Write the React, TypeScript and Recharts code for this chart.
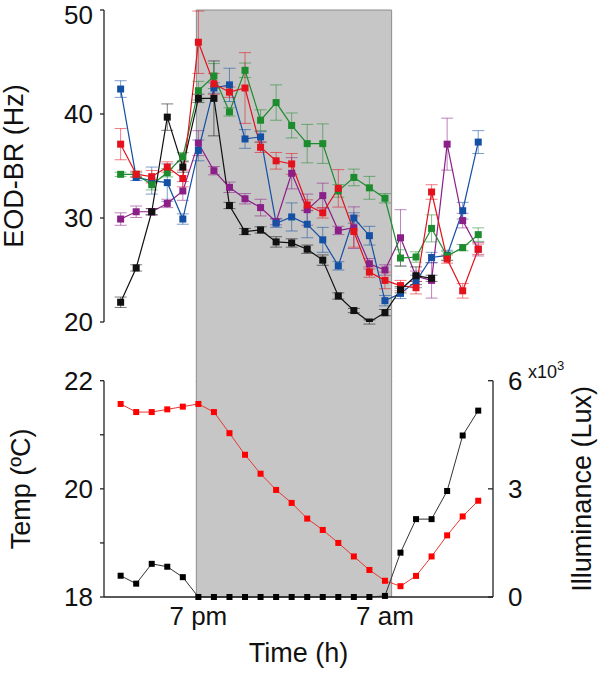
import { ComposedChart, Line, XAxis, YAxis, ErrorBar, ReferenceArea, ReferenceLine } from 'recharts';

// hours from 2 pm (14) to 1 pm next day (37)
const hours = [14, 15, 16, 17, 18, 19, 20, 21, 22, 23, 24, 25, 26, 27, 28, 29, 30, 31, 32, 33, 34, 35, 36, 37];
const timeTicks = [19, 31];
const timeLabels = ['7 pm', '7 am'];
const darkStart = 18.87;
const darkEnd = 31.43;

// EOD-BR (Hz), five fish
const blue = [42.4, 33.9, 33.6, 33.4, 29.9, 36.5, 42.5, 42.8, 37.6, 37.8, 29.5, 30.1, 29.4, 27.9, 25.4, 30.0, 28.3, 22.05, 22.75, 23.9, 26.2, 26.4, 30.7, 37.3];
const blueErr = [0.8, 0.3, 1.3, 1.8, 0.5, 1.0, 0.5, 1.6, 0.9, 0.5, 0.4, 1.35, 1.3, 1.2, 0.4, 0.5, 0.9, 0.5, 0.5, 0.6, 0.5, 0.5, 0.8, 1.1];
const red = [37.1, 34.2, 33.97, 34.9, 33.8, 46.9, 42.9, 42.1, 42.5, 36.8, 35.5, 35.2, 31.25, 30.5, 32.85, 28.7, 24.8, 24.0, 23.5, 23.3, 32.5, 26.05, 23.0, 27.0];
const redErr = [1.5, 0.3, 0.6, 0.5, 0.8, 3.0, 1.0, 0.5, 3.4, 0.5, 0.8, 1.0, 0.5, 0.5, 1.8, 1.5, 0.5, 0.8, 0.5, 0.6, 0.7, 0.4, 0.7, 0.5];
const green = [34.2, 34.2, 33.2, 34.35, 35.9, 42.24, 43.65, 40.2, 44.2, 39.4, 41.1, 38.9, 37.15, 37.15, 32.6, 33.9, 32.9, 31.9, 26.15, 26.25, 29.0, 26.35, 27.15, 28.4];
const greenErr = [0.2, 0.2, 0.5, 0.4, 0.4, 0.9, 1.2, 0.4, 0.7, 1.0, 1.7, 1.2, 1.85, 1.9, 0.6, 0.8, 1.1, 0.45, 0.8, 0.5, 1.3, 0.4, 0.3, 0.65];
const purple = [29.9, 30.6, 30.6, 31.4, 32.6, 37.2, 34.55, 32.95, 31.85, 31.0, 29.65, 34.3, 30.8, 32.15, 28.8, 29.07, 25.6, 25.0, 28.1, 24.4, 24.0, 37.1, 29.75, 27.0];
const purpleErr = [0.6, 0.55, 0.3, 0.4, 0.9, 1.2, 0.4, 0.5, 0.5, 0.8, 0.3, 1.5, 1.5, 1.2, 0.4, 2.0, 0.5, 0.5, 2.7, 0.5, 1.7, 2.5, 0.7, 0.65];
const black = [21.9, 25.2, 30.6, 39.7, 34.9, 41.5, 41.5, 31.2, 28.7, 28.85, 27.7, 27.6, 27.0, 25.95, 22.5, 21.1, 20.0, 20.9, 23.1, 24.45, 24.2, null, null, null];
const blackErr = [0.5, 0.3, 0.3, 1.27, 0.5, 0.4, 3.6, 0.3, 0.3, 0.3, 0.5, 0.4, 0.4, 0.5, 0.3, 0.2, 0.2, 0.3, 0.3, 0.85, 0.3, null, null, null];

// environment
const temp = [21.57, 21.42, 21.42, 21.47, 21.52, 21.57, 21.42, 21.03, 20.63, 20.28, 19.98, 19.74, 19.45, 19.24, 19.0, 18.75, 18.5, 18.3, 18.2, 18.39, 18.75, 19.14, 19.49, 19.78];
const lux = [0.59, 0.37, 0.92, 0.84, 0.55, 0, 0, 0, 0, 0, 0, 0, 0, 0, 0, 0, 0, 0.03, 1.23, 2.16, 2.16, 2.94, 4.48, 5.17]; // x10^3

const FONT = '"Liberation Sans", Arial, sans-serif';
const GRAY = '#c6c6c6';
const DOMAIN: [number, number] = [12.93, 37.95];

const topData = hours.map((h, i) => ({
  h,
  blue: blue[i], blueErr: blueErr[i],
  red: red[i], redErr: redErr[i],
  green: green[i], greenErr: greenErr[i],
  purple: purple[i], purpleErr: purpleErr[i],
  black: black[i], blackErr: blackErr[i],
}));
const botData = hours.map((h, i) => ({ h, temp: temp[i], lux: lux[i] }));

const square = (size: number, fill: string) => (p: any) => {
  if (p.cx == null || p.cy == null || p.value == null) return <g key={p.index} />;
  return <rect key={p.index} x={p.cx - size / 2} y={p.cy - size / 2} width={size} height={size} fill={fill} />;
};

const vTitle = (text: string, x: number) => (p: any) => {
  const vb = p.viewBox;
  const cy = vb.y + vb.height / 2;
  return (
    <text x={x} y={cy} transform={`rotate(-90, ${x}, ${cy})`} textAnchor="middle" fontSize={27} fontFamily={FONT} fill="#111">
      {text}
    </text>
  );
};

const tempTick = (p: any) => {
  if (p.payload.value % 2 !== 0) return <g />;
  return (
    <text x={p.x} y={p.y} dy="0.36em" textAnchor="end" fontSize={26} fontFamily={FONT} fill="#111">
      {p.payload.value}
    </text>
  );
};

const luxTick = (p: any) => (
  <g>
    <line x1={p.x - 5} x2={p.x} y1={p.y} y2={p.y} stroke="#222" strokeWidth={1.3} />
    <text x={p.x + 15} y={p.y} dy="0.36em" textAnchor="start" fontSize={26} fontFamily={FONT} fill="#111">
      {p.payload.value}
    </text>
    {p.payload.value === 6 && (
      <text x={p.x + 35} y={p.y - 3} fontSize={18} fontFamily={FONT} fill="#111">
        x10<tspan dy={-8} fontSize={13}>3</tspan>
      </text>
    )}
  </g>
);

const series = [
  { key: 'purple', color: '#8b1f88' },
  { key: 'blue', color: '#1450a3' },
  { key: 'green', color: '#1d8c2e' },
  { key: 'red', color: '#e3121c' },
  { key: 'black', color: '#111111' },
];

export default function App() {
  return (
    <div style={{ position: 'absolute', left: 0, top: 0, width: 600, height: 673, background: '#fff' }}>
      <div style={{ position: 'absolute', left: 0, top: 0 }}>
        <ComposedChart width={600} height={382} data={topData} margin={{ top: 10, right: 107, bottom: 60, left: 0 }}>
          <XAxis dataKey="h" type="number" domain={DOMAIN} hide allowDataOverflow />
          <YAxis
            domain={[20, 50]}
            ticks={[20, 30, 40, 50]}
            width={104}
            tickSize={4}
            tickMargin={7}
            tick={{ fontSize: 26, fontFamily: FONT, fill: '#111' }}
            axisLine={{ stroke: '#222', strokeWidth: 1.3 }}
            tickLine={{ stroke: '#222', strokeWidth: 1.3 }}
            label={{ content: vTitle('EOD-BR (Hz)', 23) }}
            allowDataOverflow
          />
          <ReferenceArea x1={darkStart} x2={darkEnd} y1={50} y2={14.0} fill={GRAY} fillOpacity={1} stroke="#8c8c8c" strokeWidth={1} ifOverflow="visible" />
          {series.map((s) => (
            <Line
              key={s.key}
              dataKey={s.key}
              stroke={s.color}
              strokeWidth={1.2}
              dot={square(7, s.color)}
              activeDot={false}
              isAnimationActive={false}
            >
              <ErrorBar dataKey={`${s.key}Err`} width={6} stroke={s.color} strokeOpacity={0.55} strokeWidth={1} direction="y" />
            </Line>
          ))}
        </ComposedChart>
      </div>
      <div style={{ position: 'absolute', left: 0, top: 340 }}>
        <ComposedChart width={600} height={333} data={botData} margin={{ top: 40.7, right: 0, bottom: 0, left: 0 }}>
          <XAxis
            dataKey="h"
            type="number"
            domain={DOMAIN}
            ticks={timeTicks}
            tickFormatter={(v: number) => timeLabels[timeTicks.indexOf(v)]}
            height={76}
            tickLine={false}
            tickSize={0}
            tickMargin={10}
            tick={{ fontSize: 26, fontFamily: FONT, fill: '#111' }}
            axisLine={{ stroke: '#222', strokeWidth: 1.3 }}
            label={{
              content: (p: any) => (
                <text x={p.viewBox.x + p.viewBox.width / 2} y={p.viewBox.y + 65} textAnchor="middle" fontSize={27} fontFamily={FONT} fill="#111">
                  Time (h)
                </text>
              ),
            }}
            allowDataOverflow
          />
          <YAxis
            yAxisId="t"
            domain={[18, 22]}
            ticks={[18, 19, 20, 21, 22]}
            width={104}
            tickSize={4}
            tickMargin={7}
            tick={tempTick}
            axisLine={{ stroke: '#222', strokeWidth: 1.3 }}
            tickLine={{ stroke: '#222', strokeWidth: 1.3 }}
            label={{ content: vTitle('Temp (ºC)', 30) }}
          />
          <YAxis
            yAxisId="l"
            orientation="right"
            domain={[0, 6]}
            ticks={[0, 3, 6]}
            width={107}
            tickSize={0}
            tickMargin={0}
            tickLine={false}
            tick={luxTick}
            axisLine={{ stroke: '#222', strokeWidth: 1.3 }}
            label={{ content: vTitle('Illuminance (Lux)', 591) }}
          />
          <ReferenceArea yAxisId="t" x1={darkStart} x2={darkEnd} y1={22} y2={18} fill={GRAY} fillOpacity={1} stroke="none" />
          <ReferenceLine yAxisId="t" x={darkStart} stroke="#8c8c8c" strokeWidth={1} />
          <ReferenceLine yAxisId="t" x={darkEnd} stroke="#8c8c8c" strokeWidth={1} />
          <Line yAxisId="t" dataKey="temp" stroke="#e53935" strokeWidth={1} dot={square(6, '#ff0000')} activeDot={false} isAnimationActive={false} />
          <Line yAxisId="l" dataKey="lux" stroke="#333" strokeWidth={1} dot={square(6, '#000')} activeDot={false} isAnimationActive={false} />
        </ComposedChart>
      </div>
    </div>
  );
}
